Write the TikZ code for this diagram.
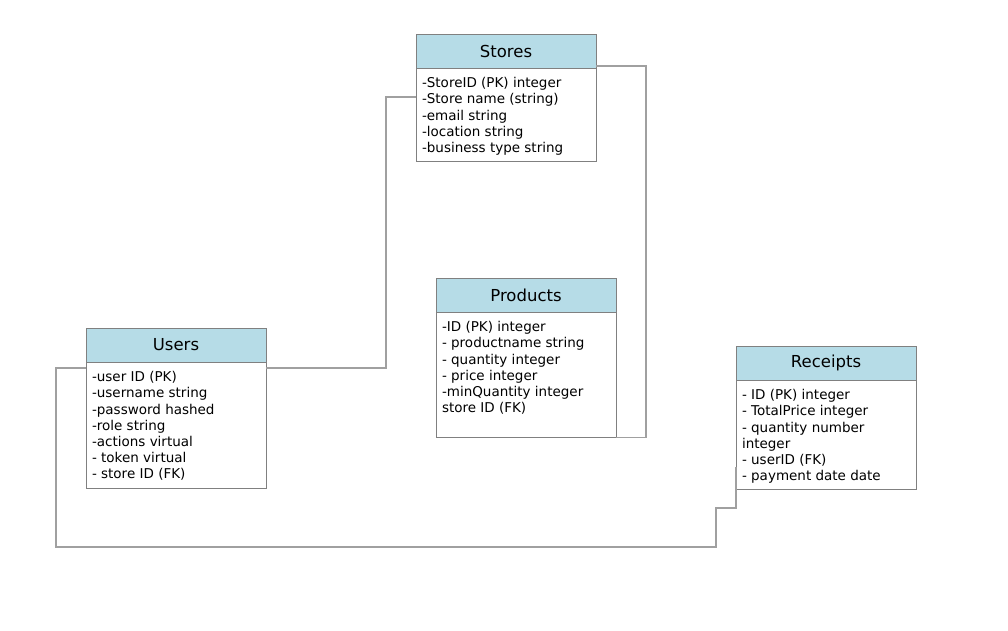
\documentclass[tikz,border=0pt]{standalone}
\usepackage{fontspec}
\setmainfont{DejaVu Sans}
\usetikzlibrary{positioning}
\definecolor{headblue}{RGB}{182,220,231}
\definecolor{boxgray}{RGB}{128,128,128}
\definecolor{linkgray}{RGB}{160,160,160}
\begin{document}
\begin{tikzpicture}[x=1pt,y=-1pt,
  head/.style={draw=boxgray,fill=headblue,minimum width=180pt,minimum height=34pt,inner sep=0pt,font=\fontsize{16.5}{20}\selectfont},
  box/.style={draw=boxgray,minimum width=180pt,inner sep=0pt},
  fields/.style={anchor=north west,align=left,inner sep=0pt,font=\fontsize{13.5}{16.2}\selectfont},
  link/.style={draw=linkgray,line width=1.5pt}]
\useasboundingbox (0,0) rectangle (1008,630);
% tables
\node[head] (stores) at (506,51) {Stores};
\node[box,minimum height=93pt,below=0pt of stores] (storesbox) {};
\node[fields] (storesfields) at ([xshift=6pt,yshift=-9pt]storesbox.north west)
  {-StoreID (PK) integer\\-Store name (string)\\-email string\\-location string\\-business type string};
\node[head] (users) at (176,345) {Users};
\node[box,minimum height=126pt,below=0pt of users] (usersbox) {};
\node[fields] (usersfields) at ([xshift=6pt,yshift=-9pt]usersbox.north west)
  {-user ID (PK)\\-username string\\-password hashed\\-role string\\-actions virtual\\- token virtual\\- store ID (FK)};
\node[head] (products) at (526,295) {Products};
\node[box,minimum height=125pt,below=0pt of products] (productsbox) {};
\node[fields] (productsfields) at ([xshift=6pt,yshift=-9pt]productsbox.north west)
  {-ID (PK) integer\\- productname string\\- quantity integer\\- price integer\\-minQuantity integer\\store ID (FK)};
\node[head] (receipts) at (826,363) {Receipts};
\node[box,minimum height=109pt,below=0pt of receipts] (receiptsbox) {};
\node[fields] (receiptsfields) at ([xshift=6pt,yshift=-9pt]receiptsbox.north west)
  {- ID (PK) integer\\- TotalPrice integer\\- quantity number\\integer\\- userID (FK)\\- payment date date};
% relations
\draw[link] ([yshift=-29pt]storesbox.north west) -- ++(-30,0) |- ([yshift=-6pt]usersbox.north east);
\draw[link] ([yshift=2pt]storesbox.north east) -- ++(50,0) |- (productsbox.south east);
\draw[link] ([yshift=-6pt]usersbox.north west) -- ++(-30,0) -- ++(0,179) -- ++(660,0)
  |- ([yshift=-128pt]receiptsbox.north west) -- ([yshift=-87pt]receiptsbox.north west);
\end{tikzpicture}
\end{document}
